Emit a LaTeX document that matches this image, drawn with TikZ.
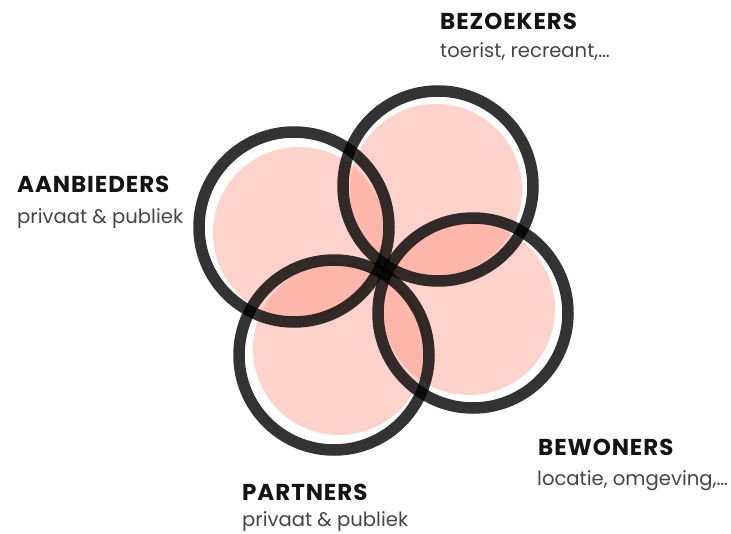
\documentclass[tikz,border=0pt]{standalone}
\usepackage{fontspec}
\setmainfont{Poppins}
\usetikzlibrary{positioning}
\definecolor{ink}{HTML}{141414}
\definecolor{subgray}{HTML}{454545}
\definecolor{petal}{HTML}{FF8A76}

\begin{document}
\begin{tikzpicture}[
      x=1pt, y=-1pt,
      petalfill/.style={
        fill=petal,
        fill opacity=0.38,
      },
      ring/.style={
        draw=black,
        draw opacity=0.8,
        line width=11.5pt,
      },
      title/.style={
        anchor=base west,
        inner sep=0pt,
        text=ink,
        font=\fontsize{23}{27}\selectfont\bfseries\addfontfeature{LetterSpace=4},
      },
      subtitle/.style={
        anchor=base west,
        inner sep=0pt,
        text=subgray,
        font=\fontsize{19.6}{24}\selectfont,
      },
      ]
      \useasboundingbox (0,0) rectangle (731,533);
      % ring centres
      \coordinate (bez) at (438,186);
      \coordinate (aan) at (294,227);
      \coordinate (bew) at (473,313);
      \coordinate (par) at (334,355);
      % pink fills, slightly smaller and pulled to the middle
      \fill[petalfill] (436,190) circle (86pt);
      \fill[petalfill] (299,233) circle (86pt);
      \fill[petalfill] (469,309) circle (86pt);
      \fill[petalfill] (339,349) circle (86pt);
      \draw[ring] (bez) circle (95pt);
      \draw[ring] (aan) circle (95pt);
      \draw[ring] (bew) circle (95pt);
      \draw[ring] (par) circle (95pt);
      % labels
      \node[title] (bezT) at (440,29) {BEZOEKERS};
      \node[subtitle] (bezS) at (440,57) {toerist, recreant,…};
      \node[title] (aanT) at (17,192) {AANBIEDERS};
      \node[subtitle] (aanS) at (17,223) {privaat \& publiek};
      \node[title] (bewT) at (538,455) {BEWONERS};
      \node[subtitle] (bewS) at (537,485) {locatie, omgeving,…};
      \node[title] (parT) at (242,500) {PARTNERS};
      \node[subtitle] (parS) at (242,526) {privaat \& publiek};
    \end{tikzpicture}
\end{document}
